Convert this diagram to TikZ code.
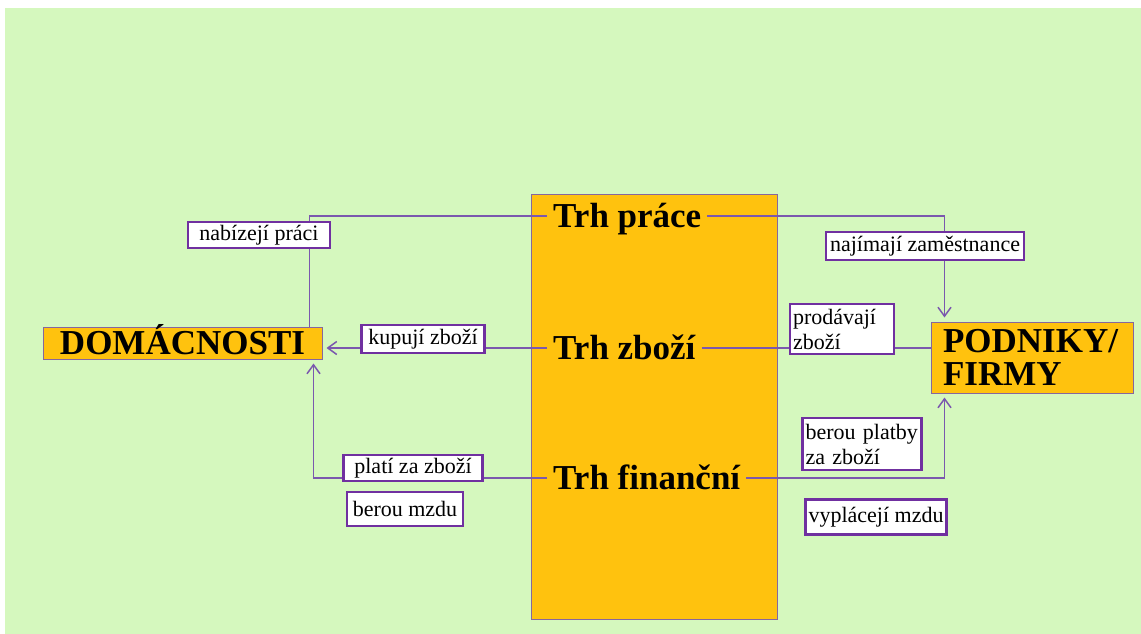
\documentclass[tikz,border=0pt]{standalone}
\usepackage{fontspec}
\setmainfont{Liberation Serif}
\usetikzlibrary{calc,positioning,arrows.meta}
\definecolor{ecobg}{HTML}{D5F8BE}
\definecolor{ecoorange}{HTML}{FFC20E}
\definecolor{ecoline}{HTML}{7B58AE}
\definecolor{ecoframe}{HTML}{7030A0}
\definecolor{ecoedge}{HTML}{86669E}

\begin{document}
\begin{tikzpicture}[x=1pt, y=-1pt,
  market/.style={anchor=west, inner xsep=6pt, inner ysep=0pt,
    text height=22pt, text depth=0pt, font=\fontsize{35}{38}\selectfont\bfseries},
  sector/.style={draw=ecoedge, line width=1pt, fill=ecoorange, inner sep=0pt,
    font=\fontsize{35}{33}\selectfont\bfseries},
  tag/.style={draw=ecoframe, line width=2.4pt, fill=white, inner sep=3pt,
    font=\fontsize{22}{25}\selectfont},
  flow/.style={draw=ecoline, line width=1.5pt},
  tip/.style={-{Straight Barb[length=9pt,width=13pt,line width=1.5pt]}, shorten >=4pt}]

  \useasboundingbox (0,0) rectangle (1141,634);
  \fill[ecobg] (5,8) rectangle (1141,634);

  % markets
  \node[sector, minimum width=246pt, minimum height=425pt] (trhy) at (654,406.5) {};
  \node[market] (prace) at (547,216) {Trh práce};
  \node[market] (zbozi) at (547,348) {Trh zboží};
  \node[market] (fin) at (547,478) {Trh finanční};

  % sectors
  \node[sector, minimum width=279pt, minimum height=32pt,
    text height=23pt, text depth=0pt] (dom) at (182.5,343) {DOMÁCNOSTI};
  \node[sector, inner xsep=12pt, text width=178pt, minimum height=71pt,
    align=left] (pod) at (1032,357.5) {PODNIKY/\\FIRMY};

  % flows
  \draw[flow] (prace.west) -| ($(dom.north east)+(-13,0)$);
  \draw[flow, tip] (prace.east) -| ($(pod.north west)+(14,0)$);
  \draw[flow, tip] (zbozi.west) -- (zbozi.west -| dom.east);
  \draw[flow] (zbozi.east) -- (zbozi.east -| pod.west);
  \draw[flow, tip] (fin.west) -| ($(dom.south east)+(-9,0)$);
  \draw[flow, tip] (fin.east) -| ($(pod.south west)+(14,0)$);

  % labels
  \node[tag, minimum width=142pt, minimum height=26pt] (nabizeji) at (259,235) {nabízejí práci};
  \node[tag, minimum width=198pt, minimum height=28pt] (najimaji) at (925,246) {najímají zaměstnance};
  \node[tag, minimum width=123pt, minimum height=28pt] (kupuji) at (423,339) {kupují zboží};
  \node[tag, text width=98pt, minimum height=50pt, align=left] (prodavaji) at (842,329) {prodávají\\zboží};
  \node[tag, text width=113pt, minimum height=52pt, align=left] (platby) at (862,444) {berou platby\\za zboží};
  \node[tag, minimum width=139pt, minimum height=24pt] (plati) at (413,468) {platí za zboží};
  \node[tag, minimum width=116pt, minimum height=34pt] (mzdu) at (405,509) {berou mzdu};
  \node[tag, minimum width=138pt, minimum height=35pt] (vyplaceji) at (876,517) {vyplácejí mzdu};
\end{tikzpicture}
\end{document}
